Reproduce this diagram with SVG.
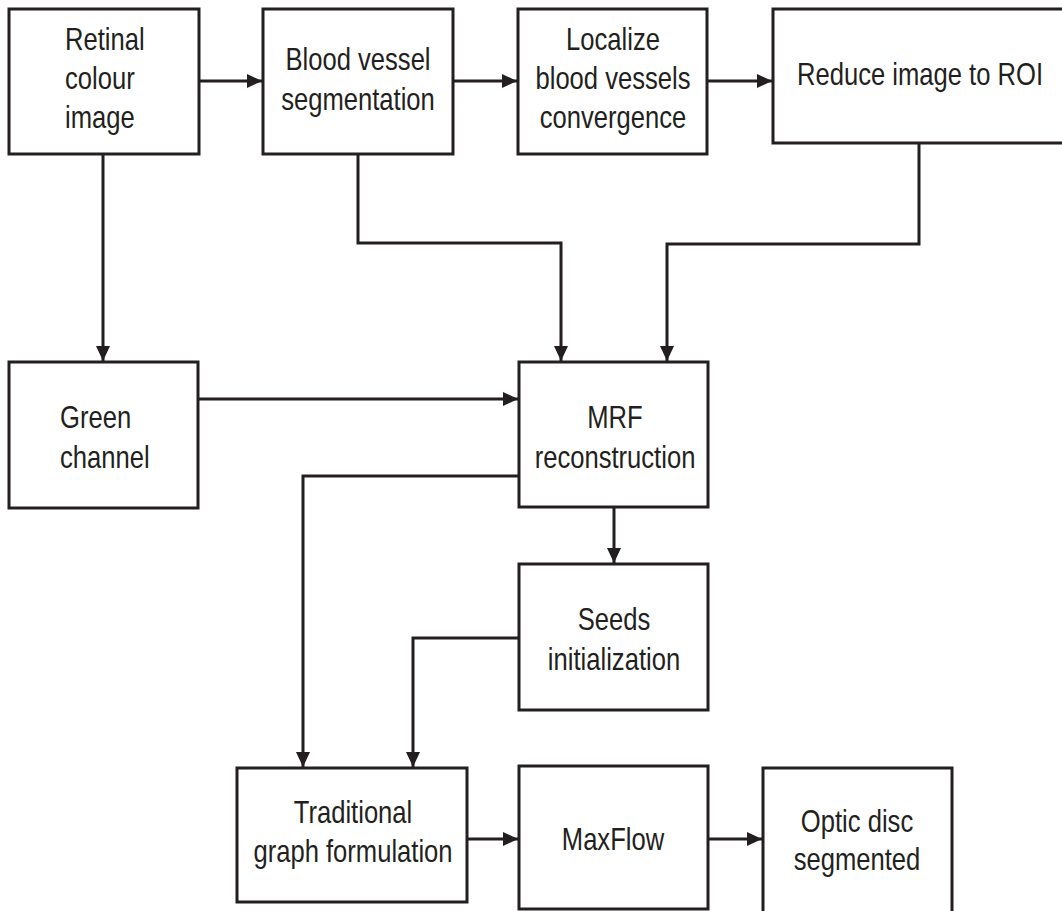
<svg xmlns="http://www.w3.org/2000/svg" width="1062" height="911" viewBox="0 0 1062 911">
<style>
.box{fill:#fff;stroke:#231f20;stroke-width:3}
.t{font-family:"Liberation Sans",Arial,sans-serif;font-size:32px;fill:#231f20}
.c{text-anchor:middle}
.e{fill:none;stroke:#231f20;stroke-width:3}
</style>
<defs>
<marker id="ah" markerUnits="userSpaceOnUse" markerWidth="16" markerHeight="14" refX="15" refY="7" orient="auto">
<path d="M0,0 L15,7 L0,14 z" fill="#231f20"/>
</marker>
</defs>
<rect width="1062" height="911" fill="#fff"/>
<g id="connectors">
<path class="e" d="M199,81 H262" marker-end="url(#ah)"/>
<path class="e" d="M453,81 H517" marker-end="url(#ah)"/>
<path class="e" d="M707,81 H772" marker-end="url(#ah)"/>
<path class="e" d="M103,154 V361" marker-end="url(#ah)"/>
<path class="e" d="M358,154 V243 H561 V361" marker-end="url(#ah)"/>
<path class="e" d="M919,143 V244 H667 V361" marker-end="url(#ah)"/>
<path class="e" d="M198,399 H518" marker-end="url(#ah)"/>
<path class="e" d="M614,507 V563" marker-end="url(#ah)"/>
<path class="e" d="M519,476 H303 V767" marker-end="url(#ah)"/>
<path class="e" d="M519,638 H413 V767" marker-end="url(#ah)"/>
<path class="e" d="M467,839 H518" marker-end="url(#ah)"/>
<path class="e" d="M708,839 H762" marker-end="url(#ah)"/>
</g>
<g id="n1">
<rect class="box" x="9" y="9" width="190" height="145"/>
<g transform="translate(65,0) scale(0.8,1)"><text class="t" x="0" y="50">Retinal</text><text class="t" x="0" y="89">colour</text><text class="t" x="0" y="128">image</text></g>
</g>
<g id="n2">
<rect class="box" x="263" y="9" width="190" height="145"/>
<g transform="translate(358,0) scale(0.8,1)"><text class="t c" x="0" y="70">Blood vessel</text><text class="t c" x="0" y="110">segmentation</text></g>
</g>
<g id="n3">
<rect class="box" x="518" y="9" width="189" height="145"/>
<g transform="translate(613,0) scale(0.8,1)"><text class="t c" x="0" y="50">Localize</text><text class="t c" x="0" y="89">blood vessels</text><text class="t c" x="0" y="128">convergence</text></g>
</g>
<g id="n4">
<rect class="box" x="773" y="9" width="300" height="134"/>
<g transform="translate(920,0) scale(0.8,1)"><text class="t c" x="0" y="85">Reduce image to ROI</text></g>
</g>
<g id="n5">
<rect class="box" x="9" y="362" width="189" height="146"/>
<g transform="translate(60,0) scale(0.8,1)"><text class="t" x="0" y="428">Green</text><text class="t" x="0" y="468">channel</text></g>
</g>
<g id="n6">
<rect class="box" x="519" y="362" width="189" height="145"/>
<g transform="translate(615,0) scale(0.8,1)"><text class="t c" x="0" y="428">MRF</text><text class="t c" x="0" y="468">reconstruction</text></g>
</g>
<g id="n7">
<rect class="box" x="519" y="564" width="189" height="146"/>
<g transform="translate(614,0) scale(0.8,1)"><text class="t c" x="0" y="630">Seeds</text><text class="t c" x="0" y="670">initialization</text></g>
</g>
<g id="n8">
<rect class="box" x="237" y="768" width="230" height="134"/>
<g transform="translate(353,0) scale(0.8,1)"><text class="t c" x="0" y="823">Traditional</text><text class="t c" x="0" y="862">graph formulation</text></g>
</g>
<g id="n9">
<rect class="box" x="519" y="766" width="189" height="143"/>
<g transform="translate(613,0) scale(0.8,1)"><text class="t c" x="0" y="850">MaxFlow</text></g>
</g>
<g id="n10">
<rect class="box" x="763" y="768" width="189" height="160"/>
<g transform="translate(857,0) scale(0.8,1)"><text class="t c" x="0" y="832">Optic disc</text><text class="t c" x="0" y="870">segmented</text></g>
</g>
</svg>
